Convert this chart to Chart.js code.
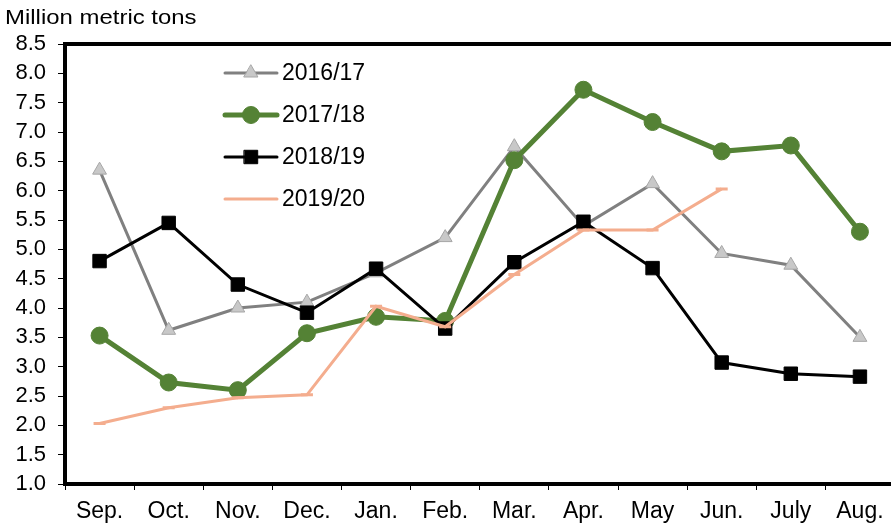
<!DOCTYPE html>
<html>
<head>
<meta charset="utf-8">
<script src="https://cdn.jsdelivr.net/npm/chart.js@4.4.1/dist/chart.umd.min.js"></script>
<style>
  body { margin: 0; overflow: hidden; background: #fff; }
  #wrap { width: 905px; height: 523px; position: relative; }
</style>
</head>
<body>
<div id="wrap"><canvas id="mycanvas"></canvas></div>
<script>
var months = ['Sep.', 'Oct.', 'Nov.', 'Dec.', 'Jan.', 'Feb.', 'Mar.', 'Apr.', 'May', 'Jun.', 'July', 'Aug.'];
var y2016 = [6.35, 3.62, 4.0, 4.1, 4.6, 5.2, 6.75, 5.4, 6.12, 4.93, 4.73, 3.5];
var y2017 = [3.53, 2.73, 2.6, 3.57, 3.85, 3.78, 6.52, 7.72, 7.17, 6.67, 6.77, 5.3];
var y2018 = [4.8, 5.45, 4.4, 3.92, 4.67, 3.65, 4.78, 5.47, 4.68, 3.07, 2.88, 2.83];
var y2019 = [2.03, 2.3, 2.47, 2.52, 4.03, 3.68, 4.57, 5.33, 5.33, 6.03, null, null];
var yTicks = ['1.0', '1.5', '2.0', '2.5', '3.0', '3.5', '4.0', '4.5', '5.0', '5.5', '6.0', '6.5', '7.0', '7.5', '8.0', '8.5'];

var FONT = '"Liberation Sans", Arial, sans-serif';

// legend drawn inside the plot + frame + unit title
var extras = {
    id: 'extras',
    afterDraw: function(chart) {
        var ctx = chart.ctx;
        var a = chart.chartArea;
        ctx.save();
        ctx.strokeStyle = '#000';
        ctx.lineWidth = 4;
        ctx.strokeRect(a.left, a.top, a.right - a.left, a.bottom - a.top);

        ctx.fillStyle = '#000';
        ctx.font = '21px ' + FONT;
        ctx.textBaseline = 'middle';
        ctx.save();
        ctx.scale(1.14, 1);
        ctx.fillText('Million metric tons', 5 / 1.14, 18);
        ctx.restore();

        var rows = [73, 115, 157, 199];
        chart.data.datasets.forEach(function(ds, i) {
            var y = rows[i];
            ctx.strokeStyle = ds.borderColor;
            ctx.lineWidth = ds.borderWidth;
            ctx.lineCap = 'round';
            ctx.beginPath();
            ctx.moveTo(225, y);
            ctx.lineTo(277, y);
            ctx.stroke();
            if (ds.pointStyle !== 'line') {
                ctx.fillStyle = ds.pointBackgroundColor;
                ctx.strokeStyle = ds.pointBorderColor;
                ctx.lineWidth = ds.pointBorderWidth;
                Chart.helpers.drawPoint(ctx, {pointStyle: ds.pointStyle, radius: ds.pointRadius, borderWidth: ds.pointBorderWidth, rotation: 0}, 251, y);
            }
            ctx.fillStyle = '#000';
            ctx.font = '23px ' + FONT;
            ctx.textBaseline = 'middle';
            ctx.fillText(ds.label, 282, y + 1);
        });
        ctx.restore();
    }
};

var chartdata = {
    labels: months,
    datasets: [
        {
            label: '2016/17',
            data: y2016,
            borderColor: '#808080',
            borderWidth: 3,
            pointStyle: 'triangle',
            pointRadius: 8,
            pointBackgroundColor: '#c8c8c8',
            pointBorderColor: '#a6a6a6',
            pointBorderWidth: 1,
            order: 4
        },
        {
            label: '2017/18',
            data: y2017,
            borderColor: '#548235',
            borderWidth: 5,
            pointStyle: 'circle',
            pointRadius: 8.5,
            pointBackgroundColor: '#548235',
            pointBorderColor: '#548235',
            pointBorderWidth: 1,
            order: 3
        },
        {
            label: '2018/19',
            data: y2018,
            borderColor: '#000000',
            borderWidth: 3,
            pointStyle: 'rect',
            pointRadius: 9.5,
            pointBackgroundColor: '#000000',
            pointBorderColor: '#000000',
            pointBorderWidth: 1,
            order: 2
        },
        {
            label: '2019/20',
            data: y2019,
            borderColor: '#f4ad8e',
            borderWidth: 3,
            pointStyle: 'line',
            pointRadius: 6,
            pointBackgroundColor: '#f4ad8e',
            pointBorderColor: '#f4ad8e',
            pointBorderWidth: 3,
            order: 1
        }
    ]
};

var ctx = document.getElementById('mycanvas');

var lineChart = new Chart(ctx, {
    type: 'line',
    data: chartdata,
    plugins: [extras],
    options: {
        responsive: true,
        maintainAspectRatio: false,
        animation: false,
        layout: { padding: { top: 44, left: 0, right: 5, bottom: 0 } },
        elements: { line: { tension: 0 } },
        plugins: {
            legend: { display: false },
            tooltip: { enabled: false }
        },
        scales: {
            x: {
                offset: true,
                afterFit: function(scale) { scale.height = 39; },
                grid: {
                    offset: true,
                    drawOnChartArea: false,
                    color: '#000',
                    tickLength: 6,
                    tickWidth: 1
                },
                border: { display: false },
                ticks: {
                    color: '#000',
                    padding: 8,
                    maxRotation: 0,
                    autoSkip: false,
                    font: { family: FONT, size: 23 }
                }
            },
            y: {
                min: 1.0,
                max: 8.5,
                afterFit: function(scale) { scale.width = 65; },
                afterBuildTicks: function(scale) {
                    scale.ticks = yTicks.map(function(t) { return { value: parseFloat(t) }; });
                },
                grid: {
                    drawOnChartArea: false,
                    color: '#000',
                    tickLength: 7,
                    tickWidth: 1
                },
                border: { display: false },
                ticks: {
                    color: '#000',
                    padding: 12,
                    autoSkip: false,
                    font: { family: FONT, size: 22 },
                    callback: function(v) { return v.toFixed(1); }
                }
            }
        }
    }
});
</script>
</body>
</html>
